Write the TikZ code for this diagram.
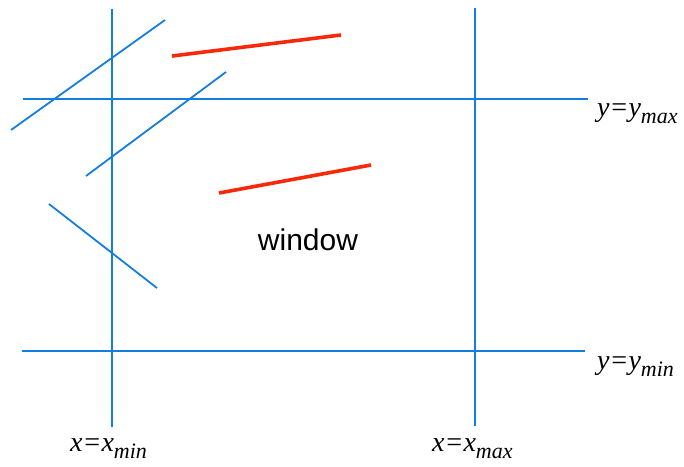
\documentclass[tikz,border=0pt]{standalone}
\usepackage{fontspec}
\setmainfont{Liberation Serif}
\newfontfamily\arialfont{Liberation Sans}
\definecolor{lblue}{RGB}{20,125,225}
\definecolor{lred}{RGB}{250,40,10}
\newcommand{\lowsub}[1]{\raisebox{-7pt}{\fontsize{22}{24}\selectfont\itshape #1}}
\begin{document}
\begin{tikzpicture}[x=1pt,y=-1pt,
  bound/.style={draw=lblue,line width=2pt},
  seg/.style={draw=lblue,line width=1.8pt},
  vis/.style={draw=lred,line width=3.6pt},
  lbl/.style={inner sep=0pt,font=\fontsize{28}{30}\selectfont\itshape},
]
\useasboundingbox (0,0) rectangle (684,466);
% window boundaries
\coordinate (vminT) at (112,9);  \coordinate (vminB) at (112,427);
\coordinate (vmaxT) at (475,8);  \coordinate (vmaxB) at (475,426);
\coordinate (hmaxL) at (23,99);  \coordinate (hmaxR) at (588,99);
\coordinate (hminL) at (22,351); \coordinate (hminR) at (585,351);
\draw[bound] (vminT) -- (vminB);
\draw[bound] (vmaxT) -- (vmaxB);
\draw[bound] (hmaxL) -- (hmaxR);
\draw[bound] (hminL) -- (hminR);
% blue segments
\coordinate (a1) at (11,130); \coordinate (a2) at (165,20);
\coordinate (b1) at (86,176); \coordinate (b2) at (226,72);
\coordinate (c1) at (49,204); \coordinate (c2) at (157,288);
\draw[seg] (a1) -- (a2);
\draw[seg] (b1) -- (b2);
\draw[seg] (c1) -- (c2);
% red segments
\coordinate (r1) at (172,56); \coordinate (r2) at (341,35);
\coordinate (s1) at (219,193); \coordinate (s2) at (371,165);
\draw[vis] (r1) -- (r2);
\draw[vis] (s1) -- (s2);
% labels
\node[lbl,anchor=base west] (ymax) at (597,116) {y=y\lowsub{max}};
\node[lbl,anchor=base west] (ymin) at (597,369) {y=y\lowsub{min}};
\node[lbl,anchor=base west] (xmin) at (70,451) {x=x\lowsub{min}};
\node[lbl,anchor=base west] (xmax) at (432,451) {x=x\lowsub{max}};
\node[inner sep=0pt,font=\arialfont\fontsize{30}{32}\selectfont] (win) at (308,240) {window};
\end{tikzpicture}
\end{document}
